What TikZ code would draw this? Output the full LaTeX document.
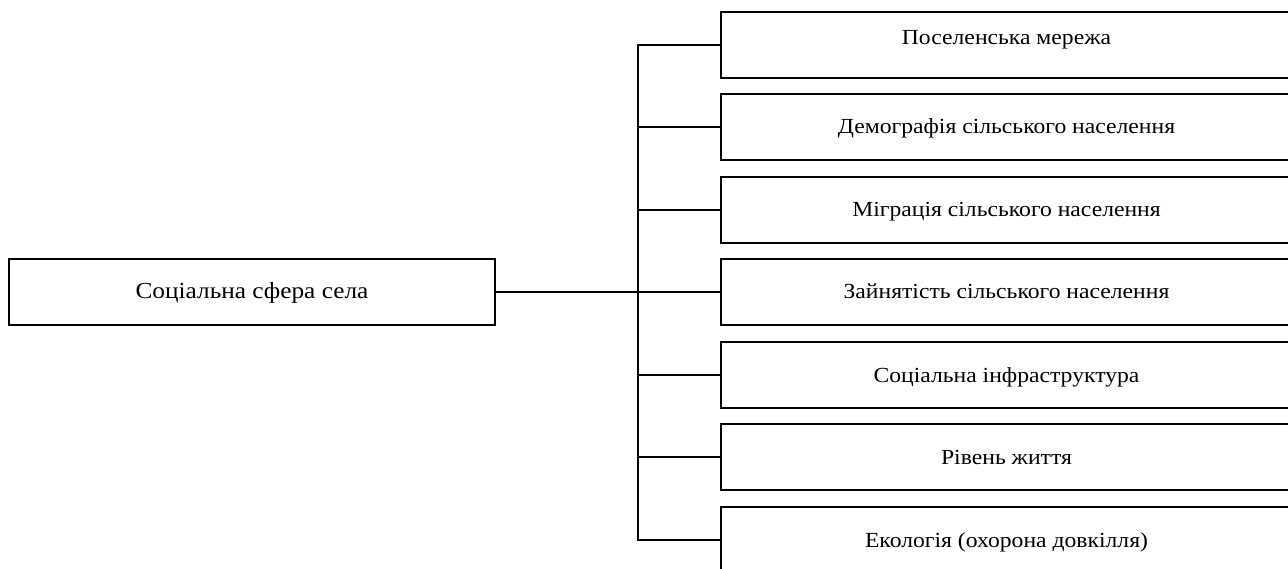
\documentclass[tikz,border=0pt]{standalone}
\usepackage{fontspec}
\setmainfont{Liberation Serif}[FakeStretch=1.1]
\begin{document}
\begin{tikzpicture}[x=1pt,y=-1pt,
  box/.style={draw, line width=2pt, rectangle, inner sep=0pt,
    text height=16pt, text depth=2pt},
  leftbox/.style={box, font=\fontsize{23}{27}\selectfont,
    minimum width=486pt, minimum height=66pt},
  rightbox/.style={box, font=\fontsize{21.5}{26}\selectfont, anchor=west,
    minimum width=571pt, minimum height=66pt},
  link/.style={line width=2pt}]
\useasboundingbox (0,0) rectangle (1288,569);
\clip (0,0) rectangle (1288,569);

% root of the scheme
\node[leftbox] (soc) at (252,292) {Соціальна сфера села};

% components of the rural social sphere
\node[rightbox] (r1) at (720,45)  {\raisebox{7pt}{Поселенська мережа}};
\node[rightbox] (r2) at (720,127) {Демографія сільського населення};
\node[rightbox] (r3) at (720,210) {Міграція сільського населення};
\node[rightbox] (r4) at (720,292) {Зайнятість сільського населення};
\node[rightbox] (r5) at (720,375) {Соціальна інфраструктура};
\node[rightbox] (r6) at (720,457) {Рівень життя};
\node[rightbox] (r7) at (720,540) {Екологія (охорона довкілля)};

% vertical bus with branches
\coordinate (bus) at (638,0);
\draw[link] (r1.west) -- (r1.west -| bus) -- (r7.west -| bus) -- (r7.west);
\foreach \i in {2,...,6}
  \draw[link] (r\i.west -| bus) -- (r\i.west);
\draw[link] (soc.east) -- (soc.east -| bus);
\end{tikzpicture}
\end{document}
